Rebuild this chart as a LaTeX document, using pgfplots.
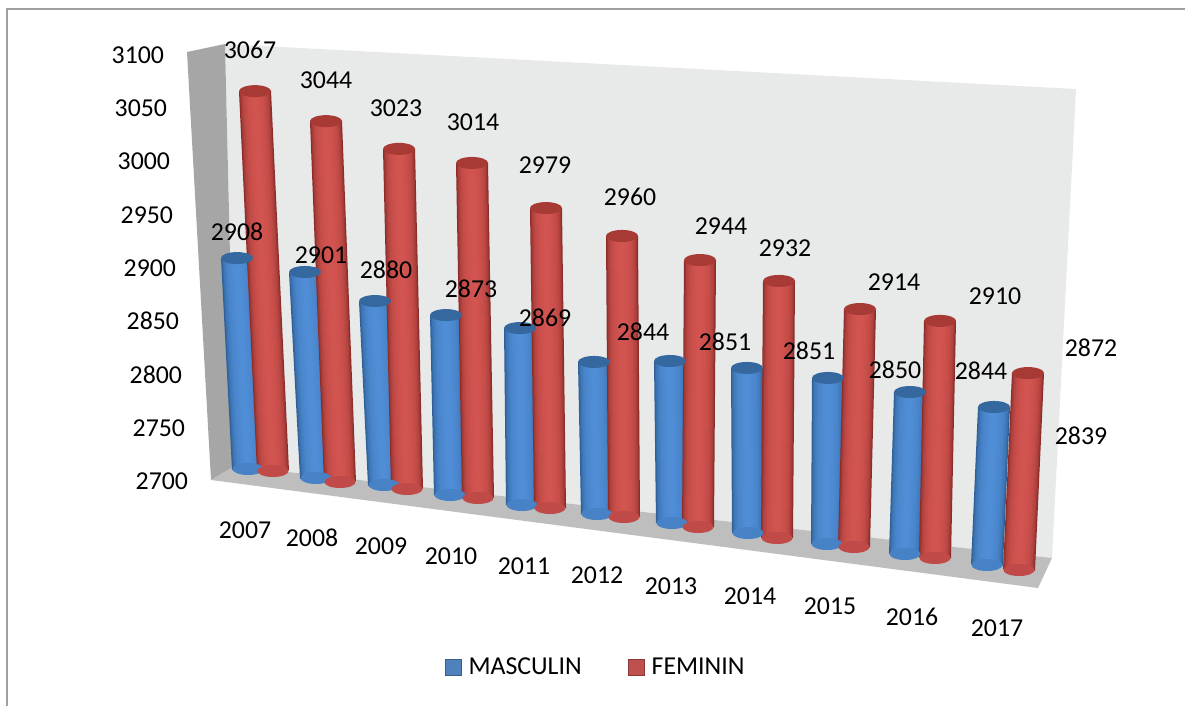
\documentclass[border=0pt]{standalone}
\usepackage{fontspec}
\setmainfont{Carlito}
\usepackage{pgfplots}
\usepackage{pgfplotstable}
\pgfplotsset{compat=1.18}
\definecolor{redE}{HTML}{8C2D2A}
\definecolor{redC}{HTML}{D25450}
\definecolor{redT}{HTML}{A83A36}
\definecolor{bluE}{HTML}{2F5F96}
\definecolor{bluC}{HTML}{4F8DD6}
\definecolor{bluT}{HTML}{35689F}
\definecolor{wallB}{HTML}{E8E9E9}
\definecolor{wallL}{HTML}{A6A6A6}
\definecolor{floorC}{HTML}{BEBEBE}
\definecolor{frameC}{HTML}{A0A0A0}
\definecolor{legB}{HTML}{4F81BD}
\definecolor{legBd}{HTML}{385D8A}
\definecolor{legR}{HTML}{C0504D}
\definecolor{legRd}{HTML}{8C3836}
\pgfdeclareplotmark{cap}{\pgfpathellipse{\pgfpointorigin}{\pgfqpoint{\pgfplotmarksize}{0pt}}{\pgfqpoint{0pt}{6pt}}\pgfusepathqfill}
\newcommand\lblfont{\fontsize{25.8}{30}\selectfont}
% year value  base-x base-y top-x  px-per-unit  label-x label-y
\pgfplotstableread{
year v    bx  by  tx  s     lx   ly
2007 2908 248 469 237 1.014 237  232
2008 2901 316 478 305 1.025 321  255
2009 2880 384 485 375 1.022 386  270
2010 2873 450 495 446 1.040 471  289
2011 2869 522 505 520 1.047 545  318
2012 2844 597 514 594 1.056 643  332
2013 2851 672 523 670 1.073 725  342
2014 2851 748 533 747 1.093 809  351
2015 2850 827 544 828 1.107 895  370
2016 2844 905 554 910 1.125 981  371
2017 2839 987 565 994 1.137 1081 436
}\masc
\pgfplotstableread{
year v    bx   by  tx   s     lx   ly
2007 3067 273  471 255  1.035 250  50
2008 3044 340  482 326  1.049 326  80
2009 3023 407  489 399  1.053 396  108
2010 3014 478  498 472  1.067 473  122
2011 2979 550  508 546  1.075 545  165
2012 2960 624  517 622  1.081 630  197
2013 2944 698  527 700  1.094 721  226
2014 2932 777  538 779  1.108 785  248
2015 2914 854  547 860  1.112 894  282
2016 2910 935  558 940  1.129 995  296
2017 2872 1019 570 1028 1.145 1091 348
}\femi
\pgfplotstableread{
year x   y
2007 245 530
2008 312 538
2009 381 546
2010 451 556
2011 524 566
2012 597 575
2013 671 586
2014 750 596
2015 830 606
2016 912 617
2017 997 628
}\years
% table, width, edge colour, centre colour, percent
\newcommand\layer[5]{%
  \addplot[mark=none, -, draw=#4!#5!#3, line width=#2pt, quiver={u={\thisrow{tx}-\thisrow{bx}}, v={-(\thisrow{v}-2700)*\thisrow{s}}}] table[x=bx, y=by] {#1};
}
\newcommand\cylinders[4]{%
  \addplot[only marks, mark=cap, mark size=15.6pt, mark options={draw=none, fill=#3!75!#2}] table[x=bx, y=by] {#1};
  \layer{#1}{32}{#2}{#3}{0}
  \layer{#1}{30}{#2}{#3}{25}
  \layer{#1}{28}{#2}{#3}{45}
  \layer{#1}{26}{#2}{#3}{60}
  \layer{#1}{23}{#2}{#3}{72}
  \layer{#1}{20}{#2}{#3}{82}
  \layer{#1}{16}{#2}{#3}{90}
  \layer{#1}{11}{#2}{#3}{96}
  \layer{#1}{6}{#2}{#3}{100}
  \addplot[only marks, mark=cap, mark size=16pt, mark options={draw=none, fill=#4}] table[x=tx, y expr=\thisrow{by}-(\thisrow{v}-2700)*\thisrow{s}] {#1};
}
\begin{document}
\begin{tikzpicture}
\begin{axis}[
  scale only axis, width=1185pt, height=706pt,
  xmin=0, xmax=1185, ymin=0, ymax=706, y dir=reverse,
  hide axis, clip=true,
  every axis plot/.append style={forget plot},
  legend style={at={(axis cs:594.5,667)}, anchor=center, draw=none, fill=none, font=\lblfont, legend columns=2, nodes={inner sep=0pt}, /tikz/every even column/.append style={column sep=46pt}, /tikz/every odd column/.append style={column sep=7pt}, inner sep=0pt, row sep=0pt},
  legend image code/.code={\draw[#1] (0pt,-8pt) rectangle (16pt,8pt);},
]
\addplot[fill=wallB, draw=none] coordinates {(225,44)(1076,89)(1052,558)(235,466)} --cycle;
\addplot[fill=wallL, draw=none] coordinates {(187,52)(225,44)(235,466)(211,480)} --cycle;
\addplot[fill=floorC, draw=none] coordinates {(211,480)(235,466)(1052,558)(1038,588)} --cycle;
\addplot[draw=frameC, line width=2pt] coordinates {(7,706)(7,9)(1185,9)};
\cylinders{\masc}{bluE}{bluC}{bluT}
\cylinders{\femi}{redE}{redC}{redT}
\addplot[only marks, mark=none, point meta=explicit symbolic, nodes near coords, every node near coord/.style={anchor=center, inner sep=0pt, font=\lblfont, text=black}] table[x=lx, y=ly, meta=v] {\masc};
\addplot[only marks, mark=none, point meta=explicit symbolic, nodes near coords, every node near coord/.style={anchor=center, inner sep=0pt, font=\lblfont, text=black}] table[x=lx, y=ly, meta=v] {\femi};
\addplot[only marks, mark=none, point meta=explicit symbolic, nodes near coords, every node near coord/.style={anchor=center, inner sep=0pt, font=\lblfont, text=black}] table[x=x, y=y, meta=year] {\years};
\addlegendimage{fill=legB, draw=legBd, line width=1pt}
\addlegendentry{MASCULIN}
\addlegendimage{fill=legR, draw=legRd, line width=1pt}
\addlegendentry{FEMININ}
\end{axis}
\begin{axis}[
  at={(140pt,225pt)}, anchor=south west,
  x={(1pt,0pt)}, y={(-0.06pt,1.065pt)},
  xmin=0, xmax=10, ymin=2700, ymax=3100,
  axis x line=none, axis y line=left,
  axis line style={draw=none},
  ytick={2700,2750,...,3100},
  ytick style={draw=none},
  tick label style={font=\lblfont},
  yticklabel style={anchor=center, inner sep=0pt},
  /pgf/number format/assume math mode=true,
  /pgf/number format/set thousands separator={},
]
\addplot[draw=none, forget plot] coordinates {(0,2700)(0,3100)};
\end{axis}
\pgfresetboundingbox
\path[use as bounding box] (0,0) rectangle (1185pt,706pt);
\end{tikzpicture}
\end{document}
